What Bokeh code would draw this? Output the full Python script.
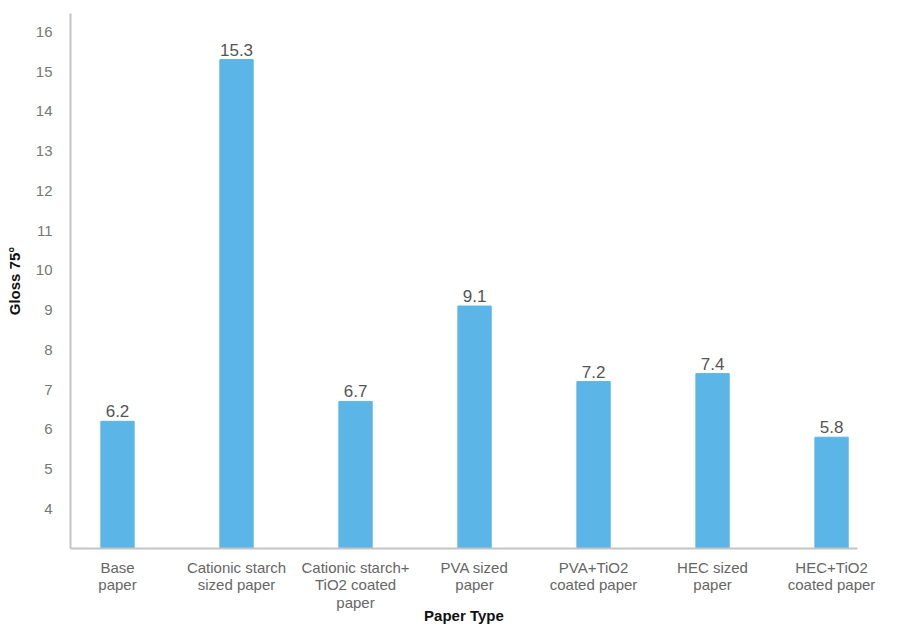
from bokeh.plotting import figure
from bokeh.models import ColumnDataSource, Range1d, FixedTicker
from bokeh.core.properties import value
from bokeh.embed import file_html
from bokeh.resources import INLINE

# Gloss (75°) measured for each paper type
categories = [
    "Base\npaper",
    "Cationic starch\nsized paper",
    "Cationic starch+\nTiO2 coated\npaper",
    "PVA sized\npaper",
    "PVA+TiO2\ncoated paper",
    "HEC sized\npaper",
    "HEC+TiO2\ncoated paper",
]
gloss = [6.2, 15.3, 6.7, 9.1, 7.2, 7.4, 5.8]
y_ticks = [4, 5, 6, 7, 8, 9, 10, 11, 12, 13, 14, 15, 16]

positions = list(range(len(categories)))
source = ColumnDataSource(dict(
    x=positions,
    top=gloss,
    label=[f"{v:.1f}" for v in gloss],
))

FONT = value("Liberation Sans")

p = figure(
    width=911, height=627,
    x_range=Range1d(-0.395, 6.218),
    y_range=Range1d(3, 16.46),
    output_backend="svg", toolbar_location=None,
    min_border_left=70, min_border_right=54,
    min_border_top=13, min_border_bottom=79,
)

p.vbar(x="x", top="top", bottom=3, width=0.28, source=source,
       fill_color="#5bb6e7", line_color="#5bb6e7")

p.text(x="x", y="top", text="label", source=source,
       text_align="center", text_baseline="bottom", y_offset=-4,
       text_font=FONT, text_font_size="17px", text_color="#555555")

p.xgrid.visible = False
p.ygrid.visible = False
p.outline_line_color = None
p.background_fill_color = "white"
p.border_fill_color = "white"

xa = p.xaxis[0]
xa.ticker = FixedTicker(ticks=positions)
xa.major_label_overrides = {i: c for i, c in zip(positions, categories)}
xa.major_tick_line_color = None
xa.minor_tick_line_color = None
xa.axis_line_color = "#c4c4c4"
xa.axis_line_width = 2
xa.major_label_text_font = "Liberation Sans"
xa.major_label_text_font_size = "15px"
xa.major_label_text_line_height = 1.05
xa.major_label_text_color = "#666666"
xa.major_label_standoff = 4
xa.axis_label = "Paper Type"
xa.axis_label_text_font = "Liberation Sans"
xa.axis_label_text_font_style = "bold"
xa.axis_label_text_font_size = "15px"
xa.axis_label_text_line_height = 1.0
xa.axis_label_text_color = "#111111"
xa.axis_label_standoff = -7

ya = p.yaxis[0]
ya.ticker = FixedTicker(ticks=y_ticks)
ya.major_tick_line_color = None
ya.minor_tick_line_color = None
ya.axis_line_color = "#c4c4c4"
ya.axis_line_width = 2
ya.major_label_text_font = "Liberation Sans"
ya.major_label_text_font_size = "15px"
ya.major_label_text_color = "#777777"
ya.major_label_standoff = 12
ya.axis_label = "Gloss 75°"
ya.axis_label_text_font = "Liberation Sans"
ya.axis_label_text_font_style = "bold"
ya.axis_label_text_font_size = "15px"
ya.axis_label_text_color = "#111111"
ya.axis_label_standoff = 10

open("out.html", "w").write(file_html(p, INLINE))
